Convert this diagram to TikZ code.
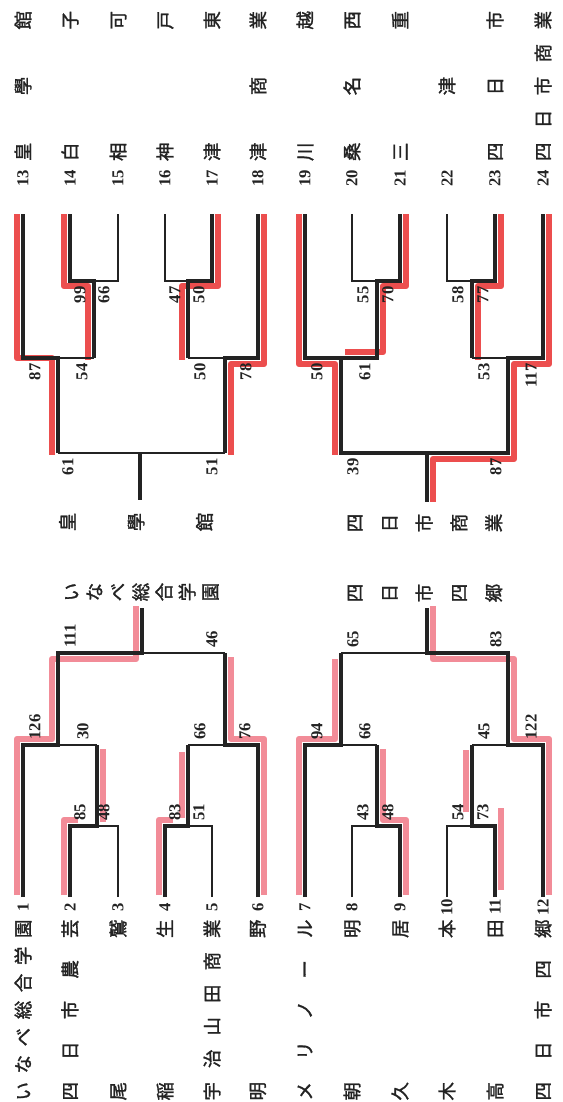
\documentclass[tikz,border=0pt]{standalone}
\usepackage{fontspec}
\setmainfont{Liberation Serif}
\newfontfamily\jp[FakeBold=1.5]{Noto Sans CJK JP}
\definecolor{markpink}{RGB}{242,140,152}
\definecolor{markred}{RGB}{236,78,78}
\definecolor{ink}{RGB}{35,35,35}
\tikzset{
  win/.style={draw=ink, line width=2.3pt},
  lose/.style={draw=ink, line width=0.8pt},
  midline/.style={draw=ink, line width=1.3pt},
  hlA/.style={draw=markpink, line width=3.6pt, line join=round},
  hlC/.style={draw=markred, line width=3.6pt, line join=round},
  score/.style={rotate=90, inner sep=0pt, text=ink, font=\bfseries\fontsize{9.5}{9.5}\selectfont},
  seed/.style={rotate=90, inner sep=0pt, text=ink, font=\bfseries\fontsize{9.5}{9.5}\selectfont},
  school/.style={rotate=90, inner sep=0pt, text=ink, font=\jp\fontsize{10.5}{11}\selectfont},
  champ/.style={rotate=90, inner sep=0pt, text=ink, align=center},
}
\newcommand{\namelow}[1]{\makebox[3.62cm]{#1}}
\newcommand{\nameup}[1]{\makebox[3.0cm]{#1}}
\begin{document}
\begin{tikzpicture}[x=0.02cm, y=-0.02cm]
  \useasboundingbox (0,0) rectangle (563,1102);

  % marker under the winning lines
  \draw[hlA] (17,895) -- (17,739) -- (52,739) -- (52,659) -- (136,659) -- (136,606);
  \draw[hlA] (64,895) -- (64,820) -- (78,820);
  \draw[hlA] (103,822) -- (103,749);
  \draw[hlA] (159,895) -- (159,820) -- (173,820);
  \draw[hlA] (182,818) -- (182,752);
  \draw[hlA] (264,895) -- (264,739) -- (231,739) -- (231,657);
  \draw[hlA] (299,895) -- (299,739) -- (335,739) -- (335,659);
  \draw[hlA] (406,895) -- (406,820) -- (383,820) -- (383,749);
  \draw[hlA] (501,890) -- (501,808);
  \draw[hlA] (466,812) -- (466,750);
  \draw[hlA] (549,895) -- (549,739) -- (514,739) -- (514,659) -- (433,659) -- (433,606);
  \draw[hlC] (17,214) -- (17,358) -- (52,358) -- (52,455);
  \draw[hlC] (64,214) -- (64,286) -- (88,286) -- (88,360);
  \draw[hlC] (218,214) -- (218,286) -- (182,286) -- (182,360);
  \draw[hlC] (264,214) -- (264,364) -- (231,364) -- (231,455);
  \draw[hlC] (299,214) -- (299,364) -- (335,364) -- (335,455);
  \draw[hlC] (406,214) -- (406,286) -- (383,286) -- (383,352) -- (345,352);
  \draw[hlC] (501,214) -- (501,286) -- (478,286) -- (478,360);
  \draw[hlC] (549,214) -- (549,364) -- (514,364) -- (514,459) -- (433,459) -- (433,502);

  % block 1-6
  \draw[win] (23,897) -- (23,745) -- (58,745) -- (58,653) -- (142,653) -- (142,608);
  \draw[win] (70,897) -- (70,826) -- (97,826) -- (97,745);
  \draw[win] (165,897) -- (165,826) -- (188,826) -- (188,745);
  \draw[win] (258,897) -- (258,745) -- (225,745) -- (225,653);
  \draw[lose] (118,897) -- (118,826) -- (97,826);
  \draw[lose] (212,897) -- (212,826) -- (188,826);
  \draw[lose] (58,745) -- (97,745);
  \draw[lose] (188,745) -- (225,745);
  \draw[midline] (142,653) -- (225,653);

  % block 7-12
  \draw[win] (305,897) -- (305,745) -- (341,745) -- (341,653);
  \draw[win] (400,897) -- (400,826) -- (377,826) -- (377,745);
  \draw[win] (495,897) -- (495,826) -- (472,826) -- (472,745);
  \draw[win] (543,897) -- (543,745) -- (508,745) -- (508,653) -- (427,653) -- (427,608);
  \draw[lose] (352,897) -- (352,826) -- (377,826);
  \draw[lose] (447,897) -- (447,826) -- (472,826);
  \draw[lose] (341,745) -- (377,745);
  \draw[lose] (472,745) -- (508,745);
  \draw[lose] (341,653) -- (427,653);

  % block 13-18
  \draw[win] (23,214) -- (23,358) -- (58,358) -- (58,453);
  \draw[win] (70,214) -- (70,281) -- (94,281) -- (94,358);
  \draw[win] (212,214) -- (212,281) -- (188,281) -- (188,358);
  \draw[win] (258,214) -- (258,358) -- (225,358) -- (225,453);
  \draw[win] (140,453) -- (140,500);
  \draw[lose] (118,214) -- (118,281) -- (94,281);
  \draw[lose] (165,214) -- (165,281) -- (188,281);
  \draw[lose] (58,358) -- (94,358);
  \draw[lose] (188,358) -- (225,358);
  \draw[midline] (58,453) -- (225,453);

  % block 19-24
  \draw[win] (305,214) -- (305,358) -- (341,358) -- (341,453) -- (427,453);
  \draw[win] (400,214) -- (400,281) -- (377,281) -- (377,358) -- (341,358);
  \draw[win] (495,214) -- (495,281) -- (472,281) -- (472,358);
  \draw[win] (543,214) -- (543,358) -- (508,358) -- (508,453) -- (427,453) -- (427,502);
  \draw[lose] (352,214) -- (352,281) -- (377,281);
  \draw[lose] (447,214) -- (447,281) -- (472,281);
  \draw[lose] (472,358) -- (508,358);

  % scores
  \node[score, anchor=west] (sc85) at (80,821) {85};
  \node[score, anchor=west] (sc48a) at (104,821) {48};
  \node[score, anchor=west] (sc83) at (175,821) {83};
  \node[score, anchor=west] (sc51a) at (199,821) {51};
  \node[score, anchor=west] (sc126) at (35,740) {126};
  \node[score, anchor=west] (sc30) at (83,740) {30};
  \node[score, anchor=west] (sc66a) at (200,740) {66};
  \node[score, anchor=west] (sc76) at (245,740) {76};
  \node[score, anchor=west] (sc111) at (70,648) {111};
  \node[score, anchor=west] (sc46) at (212,648) {46};
  \node[score, anchor=west] (sc43) at (363,821) {43};
  \node[score, anchor=west] (sc48b) at (388,821) {48};
  \node[score, anchor=west] (sc54a) at (458,821) {54};
  \node[score, anchor=west] (sc73) at (483,821) {73};
  \node[score, anchor=west] (sc94) at (317,740) {94};
  \node[score, anchor=west] (sc66b) at (365,740) {66};
  \node[score, anchor=west] (sc45) at (484,740) {45};
  \node[score, anchor=west] (sc122) at (531,740) {122};
  \node[score, anchor=west] (sc65) at (353,648) {65};
  \node[score, anchor=west] (sc83b) at (496,648) {83};
  \node[score, anchor=east] (sc99) at (80,286) {99};
  \node[score, anchor=east] (sc66c) at (104,286) {66};
  \node[score, anchor=east] (sc47) at (175,286) {47};
  \node[score, anchor=east] (sc50a) at (199,286) {50};
  \node[score, anchor=east] (sc87a) at (35,363) {87};
  \node[score, anchor=east] (sc54b) at (82,363) {54};
  \node[score, anchor=east] (sc50b) at (200,363) {50};
  \node[score, anchor=east] (sc78) at (246,363) {78};
  \node[score, anchor=east] (sc61a) at (68,458) {61};
  \node[score, anchor=east] (sc51b) at (212,458) {51};
  \node[score, anchor=east] (sc55) at (363,286) {55};
  \node[score, anchor=east] (sc70) at (388,286) {70};
  \node[score, anchor=east] (sc58) at (458,286) {58};
  \node[score, anchor=east] (sc77) at (483,286) {77};
  \node[score, anchor=east] (sc50c) at (317,363) {50};
  \node[score, anchor=east] (sc61b) at (365,363) {61};
  \node[score, anchor=east] (sc53) at (484,363) {53};
  \node[score, anchor=east] (sc117) at (531,363) {117};
  \node[score, anchor=east] (sc39) at (353,458) {39};
  \node[score, anchor=east] (sc87b) at (496,458) {87};

  % seeds and schools, lower half
  \node[seed] (sd1) at (23,907) {1};
  \node[seed] (sd2) at (70,907) {2};
  \node[seed] (sd3) at (118,907) {3};
  \node[seed] (sd4) at (165,907) {4};
  \node[seed] (sd5) at (212,907) {5};
  \node[seed] (sd6) at (258,907) {6};
  \node[seed] (sd7) at (305,907) {7};
  \node[seed] (sd8) at (352,907) {8};
  \node[seed] (sd9) at (400,907) {9};
  \node[seed] (sd10) at (447,907) {10};
  \node[seed] (sd11) at (495,907) {11};
  \node[seed] (sd12) at (543,907) {12};
  \node[school] (nm1) at (23,1010) {\namelow{い\hfill な\hfill べ\hfill 総\hfill 合\hfill 学\hfill 園}};
  \node[school] (nm2) at (70,1010) {\namelow{四\hfill 日\hfill 市\hfill 農\hfill 芸}};
  \node[school] (nm3) at (118,1010) {\namelow{尾\hfill 鷲}};
  \node[school] (nm4) at (165,1010) {\namelow{稲\hfill 生}};
  \node[school] (nm5) at (212,1010) {\namelow{宇\hfill 治\hfill 山\hfill 田\hfill 商\hfill 業}};
  \node[school] (nm6) at (258,1010) {\namelow{明\hfill 野}};
  \node[school] (nm7) at (305,1010) {\namelow{メ\hfill リ\hfill ノ\hfill ー\hfill ル}};
  \node[school] (nm8) at (352,1010) {\namelow{朝\hfill 明}};
  \node[school] (nm9) at (400,1010) {\namelow{久\hfill 居}};
  \node[school] (nm10) at (447,1010) {\namelow{木\hfill 本}};
  \node[school] (nm11) at (495,1010) {\namelow{高\hfill 田}};
  \node[school] (nm12) at (543,1010) {\namelow{四\hfill 日\hfill 市\hfill 四\hfill 郷}};

  % seeds and schools, upper half
  \node[seed] (sd13) at (23,178) {13};
  \node[seed] (sd14) at (70,178) {14};
  \node[seed] (sd15) at (118,178) {15};
  \node[seed] (sd16) at (165,178) {16};
  \node[seed] (sd17) at (212,178) {17};
  \node[seed] (sd18) at (258,178) {18};
  \node[seed] (sd19) at (305,178) {19};
  \node[seed] (sd20) at (352,178) {20};
  \node[seed] (sd21) at (400,178) {21};
  \node[seed] (sd22) at (447,178) {22};
  \node[seed] (sd23) at (495,178) {23};
  \node[seed] (sd24) at (543,178) {24};
  \node[school] (nm13) at (23,86) {\nameup{皇\hfill 學\hfill 館}};
  \node[school] (nm14) at (70,86) {\nameup{白\hfill 子}};
  \node[school] (nm15) at (118,86) {\nameup{相\hfill 可}};
  \node[school] (nm16) at (165,86) {\nameup{神\hfill 戸}};
  \node[school] (nm17) at (212,86) {\nameup{津\hfill 東}};
  \node[school] (nm18) at (258,86) {\nameup{津\hfill 商\hfill 業}};
  \node[school] (nm19) at (305,86) {\nameup{川\hfill 越}};
  \node[school] (nm20) at (352,86) {\nameup{桑\hfill 名\hfill 西}};
  \node[school] (nm21) at (400,86) {\nameup{三\hfill 重}};
  \node[school] (nm22) at (447,86) {\nameup{\hfill 津\hfill}};
  \node[school] (nm23) at (495,86) {\nameup{四\hfill 日\hfill 市}};
  \node[school] (nm24) at (543,86) {\nameup{四\hfill 日\hfill 市\hfill 商\hfill 業}};

  % block winners
  \node[champ, font={\jp\fontsize{10.5}{13.2}\selectfont}] (wA) at (142,592) {い\\な\\べ\\総\\合\\学\\園};
  \node[champ, font={\jp\fontsize{10.5}{19.8}\selectfont}] (wB) at (425,593) {四\\日\\市\\四\\郷};
  \node[champ, font={\jp\fontsize{10.5}{39}\selectfont}] (wC) at (136,522) {皇\\學\\館};
  \node[champ, font={\jp\fontsize{10.5}{19.8}\selectfont}] (wD) at (425,523) {四\\日\\市\\商\\業};
\end{tikzpicture}
\end{document}
